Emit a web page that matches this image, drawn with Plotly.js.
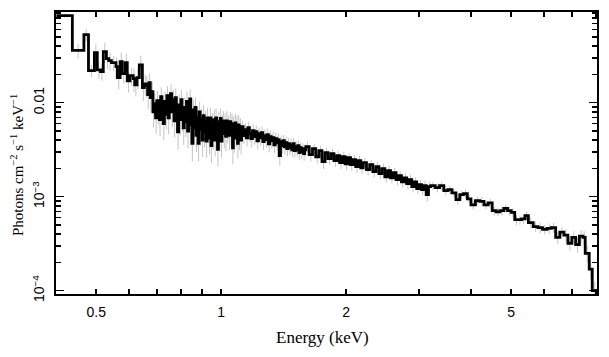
<!DOCTYPE html>
<html>
<head>
<meta charset="utf-8">
<script src="https://cdn.plot.ly/plotly-3.0.1.min.js"></script>
<style>html,body{margin:0;padding:0;background:#fff;}#chart{width:609px;height:357px;}</style>
</head>
<body>
<div id="chart"></div>
<script>
// Bin edges in keV (252 edges -> 251 bins)
const binEdges = [
  0.401, 0.438, 0.467, 0.479, 0.495, 0.503, 0.512, 0.520, 0.529, 0.536, 0.544, 0.558,
  0.562, 0.571, 0.578, 0.588, 0.594, 0.603, 0.614, 0.619, 0.627, 0.635, 0.646, 0.653,
  0.660, 0.665, 0.670, 0.675, 0.680, 0.685, 0.690, 0.695, 0.700, 0.705,
  0.710, 0.715, 0.720, 0.725, 0.730, 0.735, 0.740, 0.745, 0.750, 0.755,
  0.760, 0.765, 0.770, 0.775, 0.780, 0.785, 0.790, 0.795, 0.800, 0.805,
  0.810, 0.815, 0.820, 0.825, 0.830, 0.835, 0.840, 0.845, 0.850, 0.855,
  0.860, 0.865, 0.870, 0.875, 0.880, 0.885, 0.890, 0.895, 0.900, 0.905,
  0.910, 0.915, 0.920, 0.925, 0.930, 0.935, 0.940, 0.945, 0.950, 0.955,
  0.960, 0.965, 0.970, 0.975, 0.980, 0.985, 0.990, 0.995, 1.000, 1.005,
  1.010, 1.015, 1.020, 1.025, 1.030, 1.035, 1.040, 1.045, 1.050, 1.055,
  1.060, 1.065, 1.070, 1.075, 1.080, 1.085, 1.090, 1.095, 1.100, 1.105,
  1.110, 1.115,
  1.12, 1.13, 1.14, 1.15, 1.16, 1.17, 1.18, 1.19, 1.20, 1.21,
  1.22, 1.23, 1.24, 1.25, 1.26, 1.27, 1.28, 1.29, 1.30, 1.31,
  1.32, 1.33, 1.34, 1.35, 1.36, 1.37, 1.38, 1.39, 1.40, 1.41,
  1.42, 1.43, 1.44, 1.45, 1.46, 1.47, 1.48, 1.49, 1.50, 1.51,
  1.52, 1.53, 1.54, 1.55, 1.56, 1.57, 1.58, 1.59,
  1.60, 1.63, 1.66, 1.69, 1.72, 1.75, 1.78, 1.81, 1.84, 1.87,
  1.90, 1.93, 1.96, 1.99, 2.02, 2.05, 2.08, 2.11, 2.14, 2.17,
  2.20, 2.24, 2.28, 2.32, 2.36, 2.40, 2.44, 2.48, 2.52, 2.56,
  2.60, 2.64, 2.68, 2.72, 2.76, 2.80, 2.84, 2.88, 2.92, 2.96,
  3.00, 3.04, 3.08, 3.12, 3.16,
  3.20, 3.28, 3.36, 3.44, 3.52, 3.60, 3.68, 3.76, 3.84, 3.92,
  4.00, 4.10, 4.20, 4.30, 4.40, 4.50, 4.60, 4.70, 4.80, 4.90,
  5.00, 5.10, 5.20, 5.30, 5.40,
  5.50, 5.65, 5.80, 5.95, 6.10, 6.25, 6.40, 6.55, 6.70, 6.85,
  7.00, 7.15, 7.30, 7.45,
  7.54, 7.71, 7.84, 8.06
];

// Unfolded flux per bin (photons cm^-2 s^-1 keV^-1)
const flux = [
  0.0844, 0.0360, 0.0529, 0.0219, 0.0340, 0.0224, 0.0214, 0.0349, 0.0294, 0.0280, 0.0267, 0.0242,
  0.0185, 0.0273, 0.0204, 0.0267, 0.0171, 0.0194, 0.0180, 0.0155, 0.0185, 0.0253, 0.0145, 0.0159,
  0.0152, 0.0122, 0.0163, 0.0113, 0.0131, 0.0080, 0.0098, 0.0069, 0.0105, 0.0084,
  0.0066, 0.0116, 0.0089, 0.0060, 0.0103, 0.0075, 0.0119, 0.0069, 0.0093, 0.0125,
  0.0080, 0.0108, 0.0064, 0.0113, 0.0076, 0.0049, 0.0095, 0.0066, 0.0108, 0.0071,
  0.0054, 0.0089, 0.0063, 0.0103, 0.0050, 0.0080, 0.0110, 0.0058, 0.0037, 0.0084,
  0.0054, 0.0089, 0.0045, 0.0069, 0.0037, 0.0080, 0.0052, 0.0066, 0.0040, 0.0073,
  0.0049, 0.0063, 0.0039, 0.0069, 0.0054, 0.0042, 0.0069, 0.0035, 0.0060, 0.0047,
  0.0066, 0.0040, 0.0069, 0.0052, 0.0032, 0.0063, 0.0045, 0.0068, 0.0039, 0.0057,
  0.0064, 0.0047, 0.0060, 0.0044, 0.0064, 0.0052, 0.0057, 0.0045, 0.0063, 0.0049,
  0.0060, 0.0033, 0.0056, 0.0042, 0.0061, 0.0047, 0.0057, 0.0037, 0.0058, 0.0044,
  0.0054, 0.0040,
  0.00555, 0.00446, 0.00516, 0.00424, 0.00542, 0.00468, 0.00414, 0.00504, 0.00435, 0.00491,
  0.00394, 0.00468, 0.00424, 0.00480, 0.00385, 0.00446, 0.00404, 0.00457, 0.00366, 0.00435,
  0.00394, 0.00424, 0.00357, 0.00414, 0.00375, 0.00404, 0.00273, 0.00385, 0.00349, 0.00394,
  0.00340, 0.00375, 0.00324, 0.00366, 0.00332, 0.00357, 0.00316, 0.00366, 0.00309, 0.00340,
  0.00316, 0.00349, 0.00294, 0.00332, 0.00301, 0.00324, 0.00287, 0.00316,
  0.00340, 0.00280, 0.00324, 0.00266, 0.00309, 0.00236, 0.00294, 0.00254, 0.00287, 0.00242,
  0.00273, 0.00230, 0.00266, 0.00224, 0.00260, 0.00219, 0.00248, 0.00209, 0.00242, 0.00203,
  0.00230, 0.00194, 0.00219, 0.00185, 0.00209, 0.00176, 0.00199, 0.00163, 0.00189, 0.00159,
  0.00180, 0.00152, 0.00167, 0.00144, 0.00159, 0.00138, 0.00152, 0.00128, 0.00144, 0.00122,
  0.00134, 0.00119, 0.00131, 0.00105, 0.00128,
  0.00131, 0.00125, 0.00131, 0.00116, 0.00119, 0.00110, 0.00093, 0.00105, 0.00108, 0.00095,
  0.00082, 0.00091, 0.00089, 0.00082, 0.00086, 0.00071, 0.00069, 0.00071, 0.00075, 0.00071,
  0.00068, 0.00057, 0.00057, 0.00058, 0.00063,
  0.00053, 0.00048, 0.00047, 0.00045, 0.00046, 0.00047, 0.00037, 0.00042, 0.00039, 0.00032,
  0.00037, 0.00031, 0.00038, 0.00037,
  0.00025, 0.00017, 0.00010
];

// Relative 1-sigma error per bin
const relErr = [
  0.05, 0.18, 0.15, 0.15, 0.22, 0.20, 0.20, 0.25, 0.22, 0.22, 0.18, 0.25,
  0.25, 0.25, 0.22, 0.25, 0.25, 0.22, 0.28, 0.25, 0.25, 0.25, 0.28, 0.25,
  0.26, 0.30, 0.25, 0.30, 0.28, 0.32, 0.28, 0.33, 0.27, 0.30,
  0.33, 0.26, 0.30, 0.34, 0.27, 0.31, 0.26, 0.33, 0.29, 0.25,
  0.31, 0.27, 0.33, 0.26, 0.30, 0.35, 0.28, 0.32, 0.27, 0.31,
  0.34, 0.28, 0.32, 0.27, 0.34, 0.29, 0.26, 0.33, 0.36, 0.28,
  0.33, 0.28, 0.34, 0.30, 0.36, 0.28, 0.32, 0.30, 0.34, 0.28,
  0.32, 0.29, 0.34, 0.28, 0.31, 0.33, 0.28, 0.35, 0.29, 0.32,
  0.28, 0.33, 0.27, 0.30, 0.34, 0.28, 0.31, 0.27, 0.33, 0.29,
  0.27, 0.30, 0.28, 0.31, 0.27, 0.29, 0.28, 0.30, 0.27, 0.29,
  0.27, 0.33, 0.28, 0.30, 0.26, 0.29, 0.27, 0.31, 0.27, 0.29,
  0.27, 0.30,
  0.17, 0.19, 0.17, 0.19, 0.16, 0.18, 0.19, 0.17, 0.18, 0.17,
  0.19, 0.17, 0.18, 0.16, 0.19, 0.17, 0.18, 0.16, 0.19, 0.17,
  0.18, 0.16, 0.18, 0.16, 0.17, 0.16, 0.22, 0.16, 0.17, 0.15,
  0.17, 0.15, 0.17, 0.15, 0.16, 0.15, 0.17, 0.15, 0.16, 0.15,
  0.16, 0.14, 0.16, 0.14, 0.16, 0.14, 0.16, 0.14,
  0.13, 0.15, 0.13, 0.15, 0.13, 0.16, 0.13, 0.14, 0.13, 0.14,
  0.13, 0.14, 0.12, 0.14, 0.12, 0.14, 0.12, 0.14, 0.12, 0.14,
  0.12, 0.13, 0.12, 0.13, 0.12, 0.13, 0.12, 0.13, 0.12, 0.13,
  0.12, 0.13, 0.12, 0.13, 0.12, 0.13, 0.12, 0.13, 0.12, 0.13,
  0.12, 0.13, 0.12, 0.15, 0.12,
  0.10, 0.11, 0.10, 0.11, 0.10, 0.11, 0.12, 0.10, 0.11, 0.10,
  0.11, 0.10, 0.11, 0.10, 0.11, 0.11, 0.10, 0.11, 0.10, 0.11,
  0.11, 0.12, 0.11, 0.12, 0.11,
  0.13, 0.12, 0.13, 0.12, 0.13, 0.12, 0.15, 0.14, 0.15, 0.17,
  0.16, 0.18, 0.16, 0.17,
  0.20, 0.22, 0.25
];

const xTickVals = [0.5, 1, 2, 5];
const xTickText = ['0.5', '1', '2', '5'];
const xMinorVals = [0.6, 0.7, 0.8, 0.9, 3, 4, 6, 7, 8];
const yTickVals = [0.0001, 0.001, 0.01];
const yTickText = ['10<sup>\u22124</sup>', '10<sup>\u22123</sup>', '0.01'];
const yMinorVals = [0.0002, 0.0003, 0.0004, 0.0005, 0.0006, 0.0007, 0.0008, 0.0009,
  0.002, 0.003, 0.004, 0.005, 0.006, 0.007, 0.008, 0.009,
  0.02, 0.03, 0.04, 0.05, 0.06, 0.07, 0.08, 0.09];
const xTitle = 'Energy (keV)';
const yTitle = 'Photons cm<sup>\u22122</sup> s<sup>\u22121</sup> keV<sup>\u22121</sup>';

const nBins = Math.min(flux.length, binEdges.length - 1, relErr.length);
if (flux.length !== binEdges.length - 1 || relErr.length !== flux.length) {
  console.warn('length mismatch', binEdges.length, flux.length, relErr.length);
}

// Step line: low edges + final high edge
const stepX = binEdges.slice(0, nBins + 1);
const stepY = flux.slice(0, nBins).concat([flux[nBins - 1]]);
// Error bars at bin centres
const centers = [], cy = [], errAbs = [];
for (let i = 0; i < nBins; i++) {
  centers.push(Math.sqrt(binEdges[i] * binEdges[i + 1]));
  cy.push(flux[i]);
  errAbs.push(flux[i] * relErr[i]);
}

const traces = [
  {
    x: centers, y: cy, type: 'scatter', mode: 'markers',
    marker: {size: 2, color: 'rgba(0,0,0,0)'},
    error_y: {type: 'data', array: errAbs, visible: true, color: '#c4c4c4', thickness: 1, width: 0},
    hoverinfo: 'skip', showlegend: false
  },
  {
    x: stepX, y: stepY, type: 'scatter', mode: 'lines',
    line: {shape: 'hv', color: '#000', width: 2.8},
    showlegend: false
  }
];

const axisCommon = {
  type: 'log', showgrid: false, zeroline: false,
  showline: true, linecolor: '#000', linewidth: 2, mirror: 'ticks',
  ticks: 'inside', tickcolor: '#000', tickwidth: 1.5,
  tickfont: {family: 'Liberation Sans, Arial, sans-serif', size: 14, color: '#000'}
};

const layout = {
  width: 609, height: 357,
  margin: {l: 56, r: 12, t: 12, b: 63, pad: 0},
  paper_bgcolor: '#fff', plot_bgcolor: '#fff',
  showlegend: false,
  xaxis: Object.assign({}, axisCommon, {
    range: [Math.log10(0.4), Math.log10(8.05)],
    tickmode: 'array', tickvals: xTickVals, ticktext: xTickText,
    ticklen: 5, ticklabelstandoff: 4,
    minor: {tickmode: 'array', tickvals: xMinorVals, ticks: 'inside', ticklen: 5, tickcolor: '#000', tickwidth: 1.5, showgrid: false}
  }),
  yaxis: Object.assign({}, axisCommon, {
    range: [-4.035, -1.035],
    tickmode: 'array', tickvals: yTickVals, ticktext: yTickText,
    ticklen: 8, tickangle: -90, ticklabelstandoff: 4,
    minor: {tickmode: 'array', tickvals: yMinorVals, ticks: 'inside', ticklen: 5, tickcolor: '#000', tickwidth: 1.5, showgrid: false}
  }),
  annotations: [
    {text: xTitle, xref: 'paper', yref: 'paper', x: 0.4926, y: -0.156,
     xanchor: 'center', yanchor: 'middle', showarrow: false,
     font: {family: 'Liberation Serif, Times New Roman, serif', size: 17, color: '#000'}},
    {text: yTitle, xref: 'paper', yref: 'paper', x: -0.072, y: 0.4574, textangle: -90,
     xanchor: 'center', yanchor: 'middle', showarrow: false,
     font: {family: 'Liberation Serif, Times New Roman, serif', size: 15, color: '#000'}}
  ]
};

Plotly.newPlot('chart', traces, layout, {staticPlot: true, displayModeBar: false});
</script>
</body>
</html>
